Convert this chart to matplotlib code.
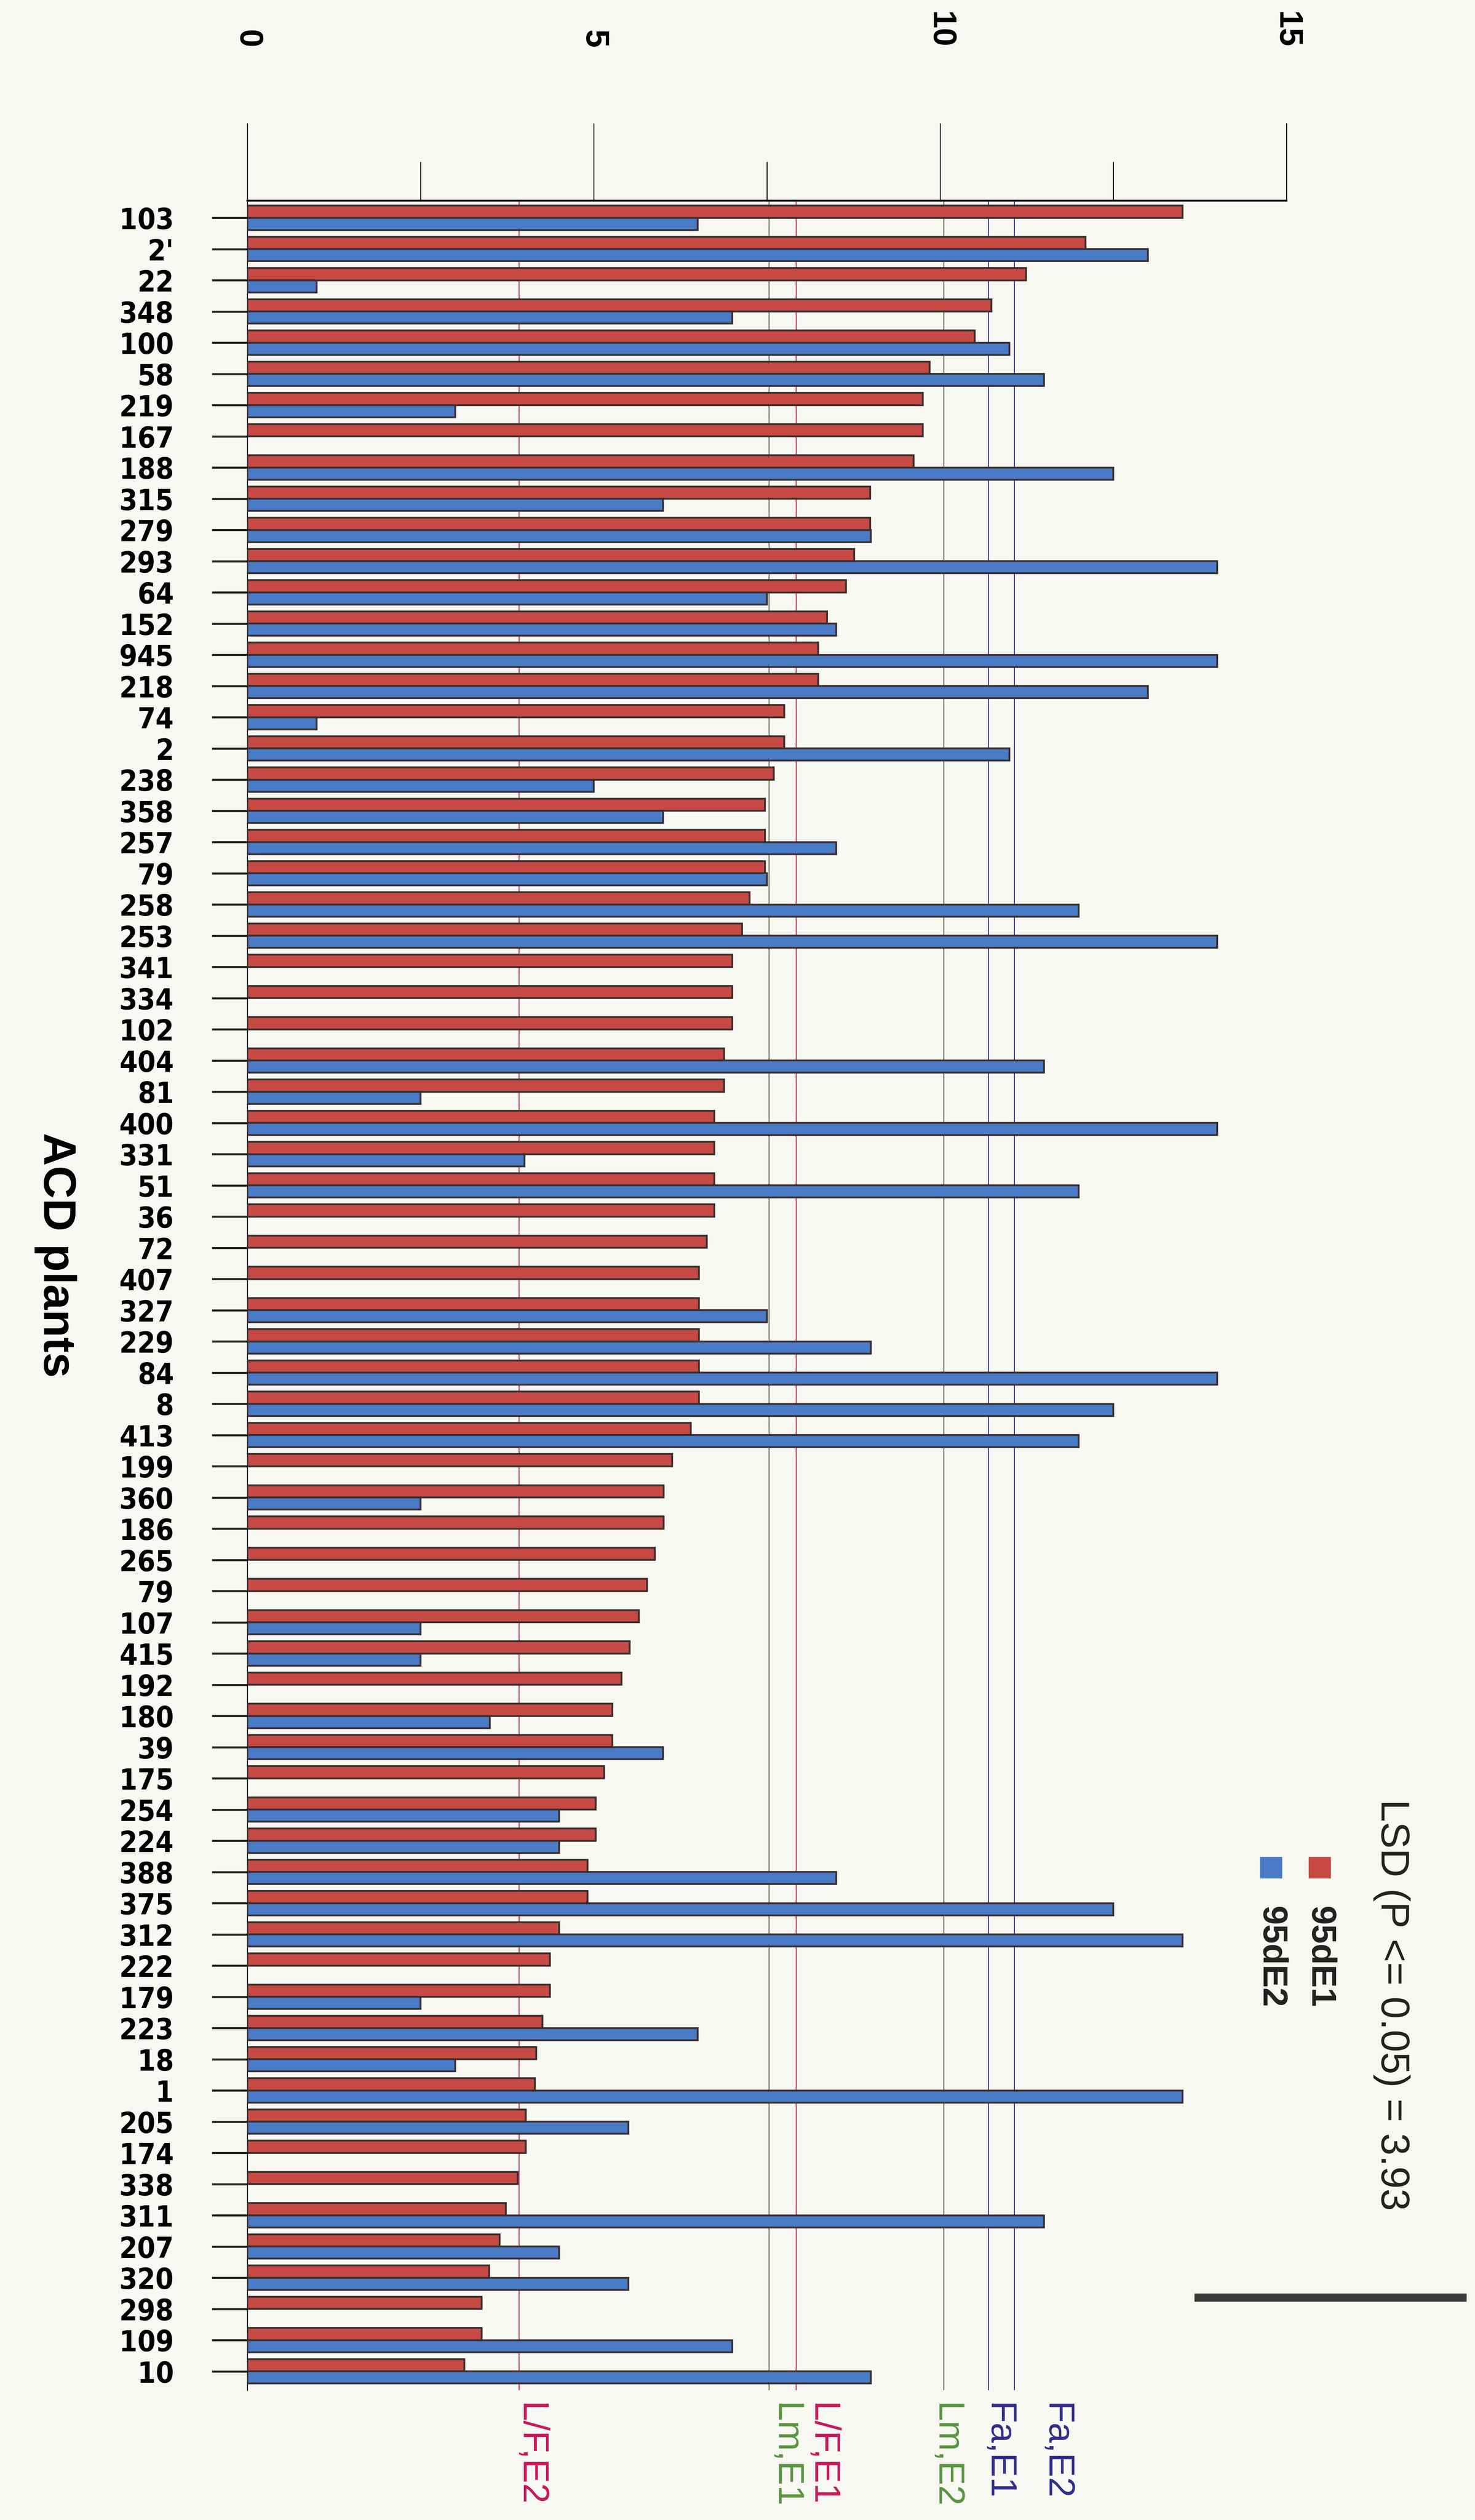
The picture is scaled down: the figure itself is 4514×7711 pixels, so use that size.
import numpy as np
import matplotlib
matplotlib.use("Agg")
import matplotlib.pyplot as plt
from matplotlib.patches import Rectangle

# ---- data -------------------------------------------------------------
plants = ["103", "2'", "22", "348", "100", "58", "219", "167", "188", "315",
          "279", "293", "64", "152", "945", "218", "74", "2", "238", "358",
          "257", "79", "258", "253", "341", "334", "102", "404", "81", "400",
          "331", "51", "36", "72", "407", "327", "229", "84", "8", "413",
          "199", "360", "186", "265", "79", "107", "415", "192", "180", "39",
          "175", "254", "224", "388", "375", "312", "222", "179", "223", "18",
          "1", "205", "174", "338", "311", "207", "320", "298", "109", "10"]

e1 = [13.5, 12.1, 11.24, 10.74, 10.5, 9.85, 9.75, 9.75, 9.62, 8.99,
      8.99, 8.76, 8.64, 8.37, 8.24, 8.24, 7.75, 7.75, 7.6, 7.47,
      7.47, 7.47, 7.25, 7.14, 7.0, 7.0, 7.0, 6.88, 6.88, 6.74,
      6.74, 6.74, 6.74, 6.63, 6.52, 6.52, 6.52, 6.52, 6.52, 6.4,
      6.13, 6.01, 6.01, 5.88, 5.77, 5.65, 5.52, 5.4, 5.27, 5.27,
      5.15, 5.03, 5.03, 4.91, 4.91, 4.5, 4.37, 4.37, 4.26, 4.17,
      4.15, 4.02, 4.02, 3.9, 3.73, 3.64, 3.49, 3.38, 3.38, 3.13]

nan = np.nan
e2 = [6.5, 13.0, 1.0, 7.0, 11.0, 11.5, 3.0, nan, 12.5, 6.0,
      9.0, 14.0, 7.5, 8.5, 14.0, 13.0, 1.0, 11.0, 5.0, 6.0,
      8.5, 7.5, 12.0, 14.0, nan, nan, nan, 11.5, 2.5, 14.0,
      4.0, 12.0, nan, nan, nan, 7.5, 9.0, 14.0, 12.5, 12.0,
      nan, 2.5, nan, nan, nan, 2.5, 2.5, nan, 3.5, 6.0,
      nan, 4.5, 4.5, 8.5, 12.5, 13.5, nan, 2.5, 6.5, 3.0,
      13.5, 5.5, nan, nan, 11.5, 4.5, 5.5, nan, 7.0, 9.0]

series_names = ["95dE1", "95dE2"]

ref_names = ["L/F,E2", "Lm,E1", "L/F,E1", "Lm,E2", "Fa,E1", "Fa,E2"]
ref_values = [3.92, 7.53, 7.92, 10.05, 10.70, 11.07]
ref_label_x = [4.08, 7.76, 8.29, 10.08, 10.83, 11.67]

lsd_value = 3.93
lsd_start = 13.67

value_ticks = [0, 5, 10, 15]
minor_ticks = [2.5, 7.5, 12.5]

# ---- style ------------------------------------------------------------
BG = "#f8f8f3"
RED = "#c64a43"
BLUE = "#4a7bc6"
EDGE = "#3a2f2f"
LINE_COL = {"L/F": "#c42050", "Lm": "#4f5a40", "Fa": "#2c2c82"}
TEXT_COL = {"L/F": "#c8185a", "Lm": "#5a9440", "Fa": "#30308c"}
SANS = ["Liberation Sans", "DejaVu Sans"]

W, H, DPI = 4514, 7711, 100
fig = plt.figure(figsize=(W / DPI, H / DPI), dpi=DPI, facecolor=BG)

# axes box (pixel geometry converted to figure fractions)
ax_left, ax_right = 757, 3937
ax_top, ax_bottom = 614, 7314
ax = fig.add_axes([ax_left / W, 1 - ax_bottom / H,
                   (ax_right - ax_left) / W, (ax_bottom - ax_top) / H])
ax.set_facecolor(BG)

y = np.arange(len(plants))
bh = 0.39
e1_arr = np.array(e1, dtype=float)
e2_arr = np.array(e2, dtype=float)
has2 = ~np.isnan(e2_arr)

ax.barh(y - 0.2, e1_arr, height=bh, color=RED, edgecolor=EDGE,
        linewidth=4.0, zorder=3, label=series_names[0])
ax.barh(y[has2] + 0.19, e2_arr[has2], height=bh, color=BLUE, edgecolor=EDGE,
        linewidth=4.0, zorder=3, label=series_names[1])

# reference lines and their labels below the plot
for name, val, lx in zip(ref_names, ref_values, ref_label_x):
    key = name.split(",")[0]
    ax.axvline(val, color=LINE_COL[key], linewidth=2.0, zorder=2)
    ax.text(lx, -0.006, name, transform=ax.get_xaxis_transform(),
            rotation=-90, ha="center", va="top", fontsize=80,
            color=TEXT_COL[key], family=SANS, clip_on=False)

ax.set_xlim(0, 15)
ax.set_ylim(len(plants) - 1 + 0.6, -0.555)

# value axis on top, rotated labels
ax.xaxis.tick_top()
ax.set_xticks(value_ticks)
ax.set_xticklabels([str(v) for v in value_ticks], rotation=-90,
                   fontsize=72, fontweight="bold", family=SANS)
ax.set_xticks(minor_ticks, minor=True)
ax.tick_params(axis="x", which="major", direction="out", length=171,
               width=2.0, pad=165, color="black")
ax.tick_params(axis="x", which="minor", direction="out", length=86,
               width=2.0, color="black")

ax.set_yticks(y)
ax.set_yticklabels(plants, fontsize=64, fontweight="bold",
                   family="DejaVu Sans", fontstretch="condensed")
ax.tick_params(axis="y", which="both", direction="out", length=78,
               width=4.5, pad=84, color="#222222")

for side in ("right", "bottom"):
    ax.spines[side].set_visible(False)
ax.spines["top"].set_linewidth(4.0)
ax.spines["left"].set_linewidth(2.0)

ax.set_ylabel("ACD plants", rotation=-90, fontsize=100, fontweight="bold",
              family=SANS)
ax.yaxis.set_label_coords((105 - ax_left) / (ax_right - ax_left),
                          (ax_bottom - 3840) / (ax_bottom - ax_top))

# LSD annotation: text, legend swatches and a bar of LSD length
fig.text(4259 / W, 1 - 5506 / H, "LSD (P <= 0.05) = " + f"{lsd_value:.2f}",
         rotation=-90, ha="center", va="top", fontsize=88, family=SANS,
         color="#222222")

for col, name, cx in ((RED, series_names[0], 4039), (BLUE, series_names[1], 3890)):
    fig.patches.append(Rectangle(((cx - 34) / W, 1 - 5748 / H), 68 / W, 66 / H,
                                 transform=fig.transFigure, facecolor=col,
                                 edgecolor="none"))
    fig.text(cx / W, 1 - 5833 / H, name, rotation=-90, ha="center", va="top",
             fontsize=76, fontweight="bold", family=SANS, color="#222222")

ax.plot([lsd_start, lsd_start + lsd_value], [0.0424, 0.0424],
        transform=ax.get_xaxis_transform(), color="#3a3a3a", linewidth=18,
        solid_capstyle="butt", clip_on=False)

fig.savefig("out.png", dpi=DPI, facecolor=BG)
